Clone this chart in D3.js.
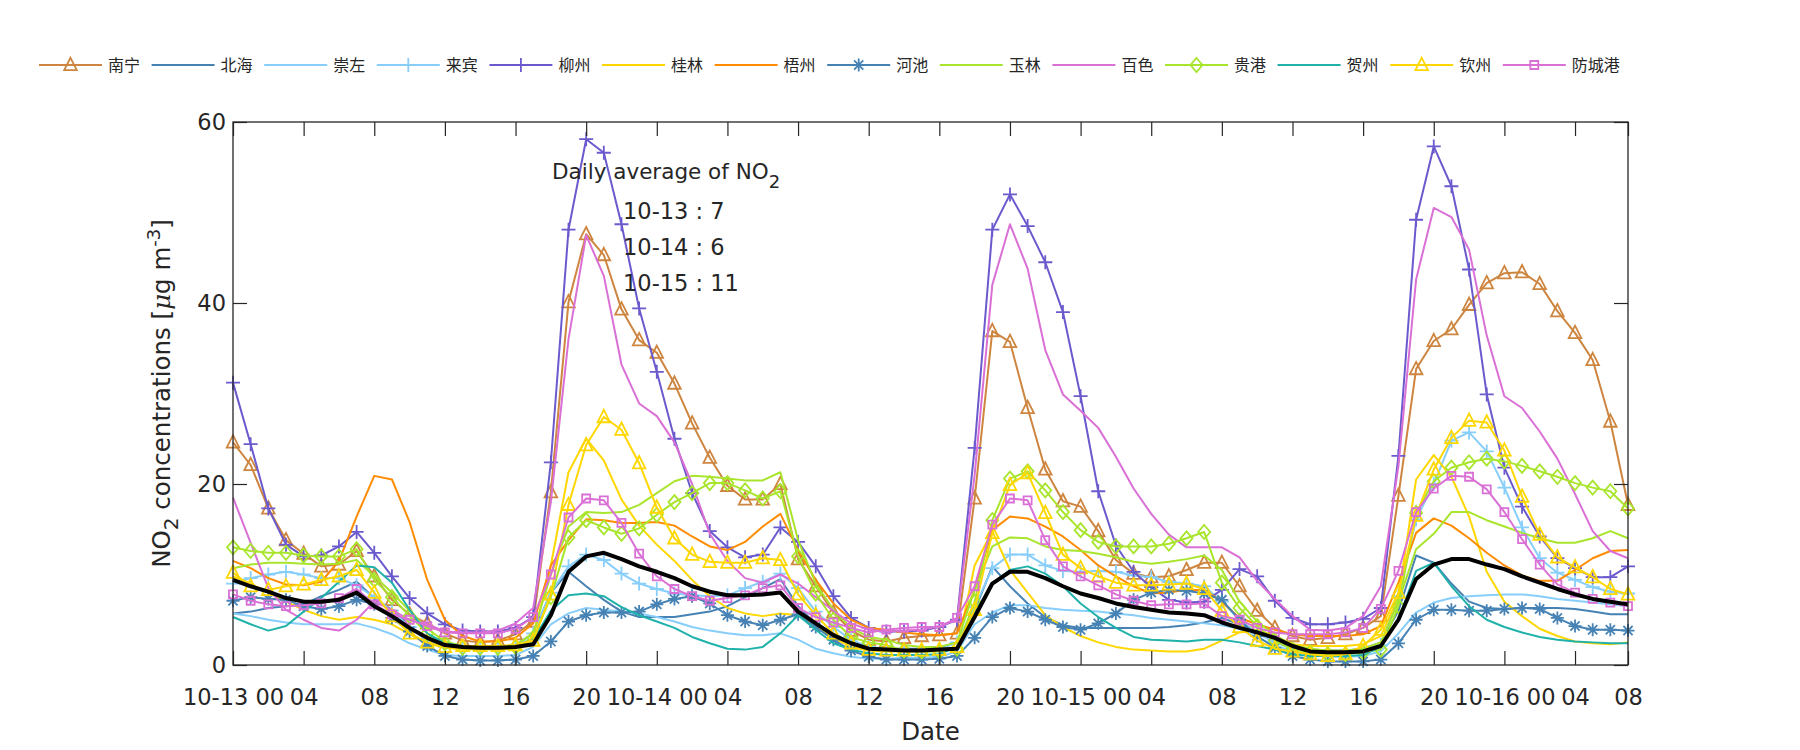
<!DOCTYPE html>
<html><head><meta charset="utf-8">
<script src="https://cdn.jsdelivr.net/npm/d3@7/dist/d3.min.js"></script>
<style>
body{margin:0;background:#fff;}
svg{display:block;}
text{font-family:"DejaVu Sans",sans-serif;fill:#262626;}
.cjk{font-family:"Noto Sans CJK SC","Noto Sans",sans-serif;}
</style>
</head><body>
<svg id="chart" width="1800" height="750"></svg>
<script>
// ---- categories / ticks ----
const hourIndex = d3.range(80); // hourly samples from 10-13 00:00 to 10-16 07:00
const tickIndex = [0,4,8,12,16,20,24,28,32,36,40,44,48,52,56,60,64,68,72,76,79];
const tickLabels = ["10-13 00","04","08","12","16","20","10-14 00","04","08","12","16","20","10-15 00","04","08","12","16","20","10-16 00","04","08"];
const yTicks = [0,20,40,60];
const cityNames = ["南宁","北海","崇左","来宾","柳州","桂林","梧州","河池","玉林","百色","贵港","贺州","钦州","防城港"];
const annotationLines = ["10-13 : 7","10-14 : 6","10-15 : 11"];

// ---- series values (NO2, ug/m3) ----
const nanning = [24.6,22.1,17.3,13.8,12.3,10.9,11.1,12.6,9.8,7.2,5.6,4.6,3.5,2.7,2.5,2.7,3.4,4.8,19.1,40.1,47.6,45.3,39.3,35.9,34.5,31.1,26.7,22.9,19.8,18.3,18.3,20.0,11.7,8.7,5.8,3.8,2.8,2.6,3.0,3.2,3.3,3.5,18.4,36.9,35.7,28.4,21.6,18.1,17.5,14.8,11.6,10.1,9.7,9.8,10.5,11.3,11.3,8.7,6.0,4.1,3.2,2.8,3.0,3.4,4.1,5.4,18.7,32.7,35.8,37.1,39.8,42.2,43.3,43.4,42.1,39.1,36.7,33.7,26.9,17.7];
const beihai = [5.7,5.9,6.3,6.5,6.7,7.6,8.3,9.2,7.4,6.1,4.3,2.6,2.1,2.0,2.0,2.0,2.2,3.5,8.0,10.3,8.7,7.2,5.9,5.3,5.3,5.3,5.6,5.9,6.5,7.5,8.5,9.5,6.5,4.5,3.5,2.5,2.0,1.8,1.8,1.8,1.9,2.5,6.0,10.9,8.7,6.8,5.3,4.4,4.1,4.1,4.1,4.1,4.1,4.2,4.4,4.7,5.2,4.5,3.6,2.6,2.0,1.7,1.6,1.6,1.8,2.5,6.0,12.1,11.3,9.0,7.0,6.3,6.2,6.3,6.3,6.3,6.2,5.9,5.6,5.6];
const chongzuo = [5.7,5.4,5.0,4.7,4.5,4.5,4.5,4.6,4.1,3.4,2.4,1.7,1.1,1.0,1.0,1.0,1.1,2.0,4.5,5.7,6.3,6.1,5.9,5.7,5.3,4.8,4.2,3.8,3.5,3.3,3.3,3.5,2.8,1.8,1.3,0.9,0.7,0.7,0.8,0.8,0.9,1.5,4.5,5.8,6.6,6.6,6.3,6.1,6.0,5.9,5.7,5.5,5.2,5.0,4.8,4.6,4.4,4.0,3.0,2.2,1.5,1.1,0.9,0.9,1.0,1.5,3.5,5.8,6.9,7.4,7.6,7.7,7.8,7.8,7.6,7.3,7.1,6.9,6.7,6.5];
const laibin = [9.0,9.6,10.0,10.3,10.0,9.6,9.6,8.8,7.5,6.0,4.2,2.7,2.0,1.8,1.8,1.8,2.0,3.5,8.0,10.9,12.2,11.6,10.1,9.0,8.4,7.9,7.7,7.6,7.7,8.5,9.2,10.1,8.5,5.9,4.2,2.8,2.0,1.7,1.6,1.6,1.7,2.5,6.4,10.7,12.2,12.2,11.0,10.4,10.3,10.4,10.3,9.9,9.7,9.2,9.0,8.7,7.0,5.0,3.5,2.5,1.8,1.5,1.4,1.4,1.5,2.2,7.6,16.1,20.0,24.8,25.7,23.6,19.6,15.2,11.8,10.2,9.4,8.6,8.1,7.9];
const liuzhou = [31.2,24.4,17.3,13.3,12.0,12.1,13.1,14.7,12.4,9.8,7.4,5.7,4.5,3.8,3.7,3.7,4.1,5.3,22.4,48.1,58.1,56.6,48.7,39.4,32.4,25.0,19.0,14.8,13.0,11.9,12.2,15.2,13.6,10.9,7.6,5.2,4.1,3.7,3.7,3.8,4.2,5.0,24.0,48.1,52.0,48.5,44.5,39.0,29.7,19.2,13.2,10.3,8.6,7.2,6.9,7.0,8.3,10.6,9.8,7.1,5.2,4.5,4.5,4.7,5.1,6.3,23.1,49.2,57.3,52.9,43.7,29.9,21.8,17.5,14.2,11.8,10.7,9.7,9.7,10.9];
const guilin = [9.8,9.0,8.0,7.0,6.1,5.4,5.0,5.3,5.0,4.5,3.4,2.4,1.9,1.7,1.7,1.7,1.8,3.0,11.0,21.3,25.0,22.6,18.3,15.4,13.3,11.5,9.4,7.6,6.3,5.7,5.4,5.7,5.5,4.2,3.0,2.0,1.6,1.5,1.5,1.5,1.6,1.8,11.0,14.8,10.5,8.0,5.5,4.2,3.2,2.5,2.0,1.7,1.6,1.5,1.5,1.8,2.7,3.6,3.9,3.2,2.3,2.1,2.1,2.1,2.3,3.2,7.5,20.5,23.2,20.8,16.4,10.3,7.0,5.4,4.0,3.2,2.6,2.4,2.3,2.5];
const wuzhou = [11.5,10.7,9.6,8.9,8.8,9.2,11.5,16.4,20.9,20.5,15.8,9.4,5.0,3.2,2.6,2.6,3.0,4.6,11.0,13.8,16.1,16.0,15.7,15.7,15.8,15.4,14.2,13.1,12.7,13.6,15.3,16.7,12.7,9.4,6.8,5.0,4.1,3.9,3.6,3.4,3.3,3.5,8.3,14.9,16.4,16.2,15.3,14.2,12.7,11.0,9.8,8.7,7.9,8.0,8.3,8.3,7.0,5.2,4.5,3.9,3.4,3.2,3.2,3.2,3.4,4.3,9.1,14.6,16.2,15.4,14.0,12.4,11.0,9.9,9.3,9.3,10.5,11.8,12.6,12.7];
const hechi = [7.1,7.5,7.3,7.2,6.5,6.2,6.5,7.2,6.7,5.2,3.7,2.1,1.0,0.6,0.5,0.5,0.6,1.0,2.6,4.8,5.5,5.8,5.8,5.9,6.7,7.3,7.6,6.8,5.5,4.8,4.4,5.0,5.6,4.2,2.8,1.6,0.9,0.6,0.6,0.6,0.7,1.0,3.0,5.3,6.3,5.9,5.0,4.2,3.9,4.6,5.7,7.2,8.0,8.3,8.2,7.9,7.2,5.0,3.2,1.9,1.0,0.6,0.4,0.4,0.4,0.6,2.4,5.0,6.1,6.1,6.0,6.0,6.2,6.3,6.2,5.2,4.3,3.9,3.9,3.8];
const yulin = [10.7,11.1,11.3,11.3,11.2,11.1,11.2,11.6,9.8,8.0,6.0,4.0,2.6,2.1,2.0,2.0,2.2,3.5,10.0,15.3,16.9,16.8,16.9,17.7,19.0,20.3,20.9,20.8,20.6,20.4,20.4,21.3,13.8,9.0,6.1,4.1,3.1,2.8,2.2,2.0,2.0,2.5,8.3,13.1,14.1,14.0,13.1,12.7,12.6,12.3,11.9,11.4,11.2,11.4,11.7,12.1,10.5,7.0,4.8,3.3,2.2,1.8,1.6,1.6,1.8,2.5,7.0,12.8,14.5,16.9,16.9,16.0,15.3,14.6,14.0,13.5,13.5,14.0,14.8,14.0];
const baise = [18.5,13.5,8.5,6.1,5.0,4.1,3.8,5.0,7.0,6.1,5.0,4.5,3.7,3.6,3.6,3.8,4.6,6.3,18.0,36.0,47.5,43.0,33.2,28.9,27.5,24.6,20.0,14.5,11.5,9.6,9.1,10.0,9.0,7.5,6.0,4.6,3.9,3.7,3.8,3.9,4.3,5.0,21.0,42.0,48.7,43.8,34.8,29.9,28.1,26.2,23.0,19.5,16.7,14.4,13.0,13.0,13.0,11.9,9.3,7.3,5.4,3.9,3.8,4.1,5.4,8.7,22.0,42.6,50.5,49.5,45.9,36.4,29.7,28.4,25.8,22.8,18.9,14.8,12.6,11.8];
const guigang = [13.0,12.6,12.4,12.4,12.1,12.0,12.0,12.8,9.4,7.5,5.4,3.5,2.4,1.9,1.9,1.9,2.0,3.0,7.5,14.1,16.0,15.2,14.5,15.1,16.6,18.0,19.0,20.1,20.1,19.3,18.4,19.2,12.0,7.9,5.0,3.1,2.5,2.2,1.6,1.5,1.5,1.8,7.0,16.0,20.6,21.4,19.3,16.9,14.9,13.6,13.1,13.1,13.1,13.4,14.0,14.7,9.1,6.3,4.3,2.7,1.7,1.4,1.2,1.2,1.4,1.7,6.5,16.8,20.3,21.8,22.4,22.8,22.5,22.0,21.4,20.8,20.1,19.6,19.2,17.3];
const hezhou = [5.3,4.5,3.8,4.3,5.9,7.4,9.2,11.0,10.8,9.1,6.1,3.5,2.4,2.1,2.0,2.0,2.0,2.8,6.0,7.7,7.9,7.6,6.4,5.5,4.8,4.1,3.1,2.4,1.8,1.7,2.0,3.5,5.5,3.9,2.4,1.7,1.3,1.1,1.1,1.1,1.2,2.0,5.7,9.0,10.5,10.9,10.1,8.7,6.8,5.3,4.1,3.1,2.8,2.7,2.6,2.8,2.8,2.5,2.1,1.7,1.2,1.0,1.0,1.0,1.1,2.0,5.0,10.4,11.3,8.7,6.5,5.0,4.2,3.6,3.1,2.8,2.6,2.5,2.4,2.4];
const qinzhou = [10.2,8.7,8.3,8.7,8.9,9.4,9.8,10.5,8.0,5.4,3.5,2.5,2.0,2.1,2.1,2.1,2.2,2.7,7.8,17.7,24.3,27.4,26.0,22.3,17.4,14.0,12.2,11.4,11.3,11.3,11.8,11.6,7.8,5.5,3.5,2.4,1.7,1.6,1.6,1.6,1.7,2.0,6.1,14.6,19.9,21.2,16.8,12.2,10.7,9.8,9.1,8.8,8.8,8.9,9.0,8.4,6.0,4.2,2.7,1.8,1.5,1.2,1.0,1.2,2.1,3.9,8.0,16.5,21.6,25.1,27.0,26.8,23.7,18.6,14.4,11.9,10.8,9.7,8.4,7.8];
const fangchenggang = [7.8,7.1,6.7,6.5,6.6,6.8,7.4,8.4,6.7,5.6,5.0,4.3,3.6,3.5,3.5,3.5,4.0,5.3,10.0,16.3,18.4,18.2,15.7,12.3,9.8,8.4,7.6,7.1,7.4,7.7,8.5,8.8,6.3,5.3,4.7,4.1,3.6,3.9,4.1,4.2,4.2,5.2,8.7,15.5,18.4,18.2,13.8,10.9,9.8,8.8,7.8,7.1,6.6,6.7,6.7,6.8,5.4,5.0,4.1,3.6,3.4,3.4,3.4,3.6,4.1,6.2,10.4,16.9,19.5,20.9,20.8,19.4,16.9,13.9,11.1,8.9,8.0,7.3,6.9,6.5];
const dailyMean = [9.4,8.7,8.1,7.4,7.0,7.0,7.2,8.0,6.5,5.4,4.1,3.0,2.2,2.0,1.9,1.9,2.0,2.3,5.5,10.3,12.0,12.4,11.7,10.9,10.3,9.6,8.7,8.1,7.7,7.7,7.8,8.0,5.9,4.6,3.3,2.4,1.8,1.7,1.6,1.6,1.7,1.8,5.3,9.0,10.3,10.3,9.6,8.7,7.9,7.4,6.8,6.4,6.1,5.8,5.7,5.5,4.7,4.1,3.6,3.0,2.1,1.5,1.4,1.4,1.5,2.1,5.0,9.5,11.1,11.7,11.7,11.1,10.6,9.8,9.1,8.4,7.8,7.3,7.0,6.7];

// ---- styles (colour + marker) per series ----
const seriesValues = [nanning,beihai,chongzuo,laibin,liuzhou,guilin,wuzhou,hechi,yulin,baise,guigang,hezhou,qinzhou,fangchenggang];
const seriesColors = ["#CD853F","#4682B4","#87CEFA","#87CEFA","#6A5ACD","#FFD700","#FF8C00","#4682B4","#A8E52C","#DA70D6","#A8E52C","#20B2AA","#FFD700","#DA70D6"];
const seriesMarkers = ["triangle",null,null,"plus","plus",null,null,"star",null,null,"diamond",null,"triangle","square"];

const svg = d3.select("#chart");
const L = 233, R = 1628, T = 122, B = 665;
const x = d3.scaleLinear().domain([0,79]).range([L,R]);
const y = d3.scaleLinear().domain([0,60]).range([B,T]);

const markerPath = {
  triangle: "M0,-7.2L6.3,5.2L-6.3,5.2Z",
  plus: "M-7,0H7M0,-7V7",
  star: "M-6.5,0H6.5M0,-6.5V6.5M-4.6,-4.6L4.6,4.6M-4.6,4.6L4.6,-4.6",
  square: "M-4,-4H4V4H-4Z",
  diamond: "M0,-7L6,0L0,7L-6,0Z"
};

// series lines
const line = d3.line().x((d,i)=>x(hourIndex[i])).y(d=>y(d));
const gSeries = svg.append("g");
seriesValues.forEach((vals,k)=>{
  const g = gSeries.append("g");
  g.append("path").attr("d", line(vals)).attr("fill","none")
    .attr("stroke", seriesColors[k]).attr("stroke-width", 2).attr("stroke-linejoin","round");
  if (seriesMarkers[k]) {
    g.selectAll("path.m").data(vals).enter().append("path").attr("class","m")
      .attr("d", markerPath[seriesMarkers[k]])
      .attr("transform",(d,i)=>`translate(${x(hourIndex[i])},${y(d)})`)
      .attr("fill","none").attr("stroke", seriesColors[k]).attr("stroke-width",1.8);
  }
});
// black mean line
svg.append("path").attr("d", line(dailyMean)).attr("fill","none")
  .attr("stroke","#000").attr("stroke-width",4).attr("stroke-linejoin","round");

// axes (ticks pointing inward on all four sides)
const axisColor = "#262626";
function styleAxis(g){
  g.select(".domain").remove();
  g.selectAll(".tick line").attr("stroke",axisColor).attr("stroke-width",1.2);
  g.selectAll(".tick text").attr("font-size",22.5).attr("fill",axisColor)
    .attr("font-family","'DejaVu Sans',sans-serif");
}
svg.append("g").attr("transform",`translate(0,${B})`)
  .call(d3.axisBottom(x).tickValues(tickIndex).tickFormat((d,i)=>tickLabels[i]).tickSizeInner(-14).tickSizeOuter(0).tickPadding(24))
  .call(styleAxis);
svg.append("g").attr("transform",`translate(0,${T})`)
  .call(d3.axisTop(x).tickValues(tickIndex).tickFormat("").tickSizeInner(-14).tickSizeOuter(0))
  .call(styleAxis);
svg.append("g").attr("transform",`translate(${L},0)`)
  .call(d3.axisLeft(y).tickValues(yTicks).tickSizeInner(-14).tickSizeOuter(0).tickPadding(7))
  .call(styleAxis);
svg.append("g").attr("transform",`translate(${R},0)`)
  .call(d3.axisRight(y).tickValues(yTicks).tickFormat("").tickSizeInner(-14).tickSizeOuter(0))
  .call(styleAxis);
svg.append("rect").attr("x",L).attr("y",T).attr("width",R-L).attr("height",B-T)
  .attr("fill","none").attr("stroke",axisColor).attr("stroke-width",1.3);

// axis titles
svg.append("text").attr("x",(L+R)/2).attr("y",740).attr("text-anchor","middle")
  .attr("font-size",24.5).text("Date");
const yl = svg.append("text").attr("transform",`translate(170,${(T+B)/2}) rotate(-90)`)
  .attr("text-anchor","middle").attr("font-size",24.5);
yl.append("tspan").text("NO");
yl.append("tspan").attr("font-size",20).attr("dy",8).text("2");
yl.append("tspan").attr("dy",-8).text(" concentrations [");
yl.append("tspan").attr("font-style","italic").attr("font-family","'DejaVu Serif',serif").text("μ");
yl.append("tspan").text("g m");
yl.append("tspan").attr("font-size",18).attr("dy",-10).text("-3");
yl.append("tspan").attr("dy",10).text("]");

// annotation
const ann = svg.append("text").attr("x",552).attr("y",179).attr("font-size",21.5);
ann.append("tspan").text("Daily average of NO");
ann.append("tspan").attr("font-size",18).attr("dy",9).text("2");
annotationLines.forEach((t,i)=>{
  svg.append("text").attr("x",623).attr("y",219+i*36).attr("font-size",22.5).text(t);
});

// legend
const lg = svg.append("g");
cityNames.forEach((name,k)=>{
  const x0 = 39 + k*112.6, ly = 65;
  lg.append("line").attr("x1",x0).attr("x2",x0+63).attr("y1",ly).attr("y2",ly)
    .attr("stroke",seriesColors[k]).attr("stroke-width",2);
  if (seriesMarkers[k]) lg.append("path").attr("d",markerPath[seriesMarkers[k]])
    .attr("transform",`translate(${x0+31.5},${ly})`).attr("fill","none")
    .attr("stroke",seriesColors[k]).attr("stroke-width",1.8);
  lg.append("text").attr("class","cjk").attr("x",x0+69).attr("y",ly+6)
    .attr("font-size",16).attr("fill","#000").text(name);
});
</script>
</body></html>
